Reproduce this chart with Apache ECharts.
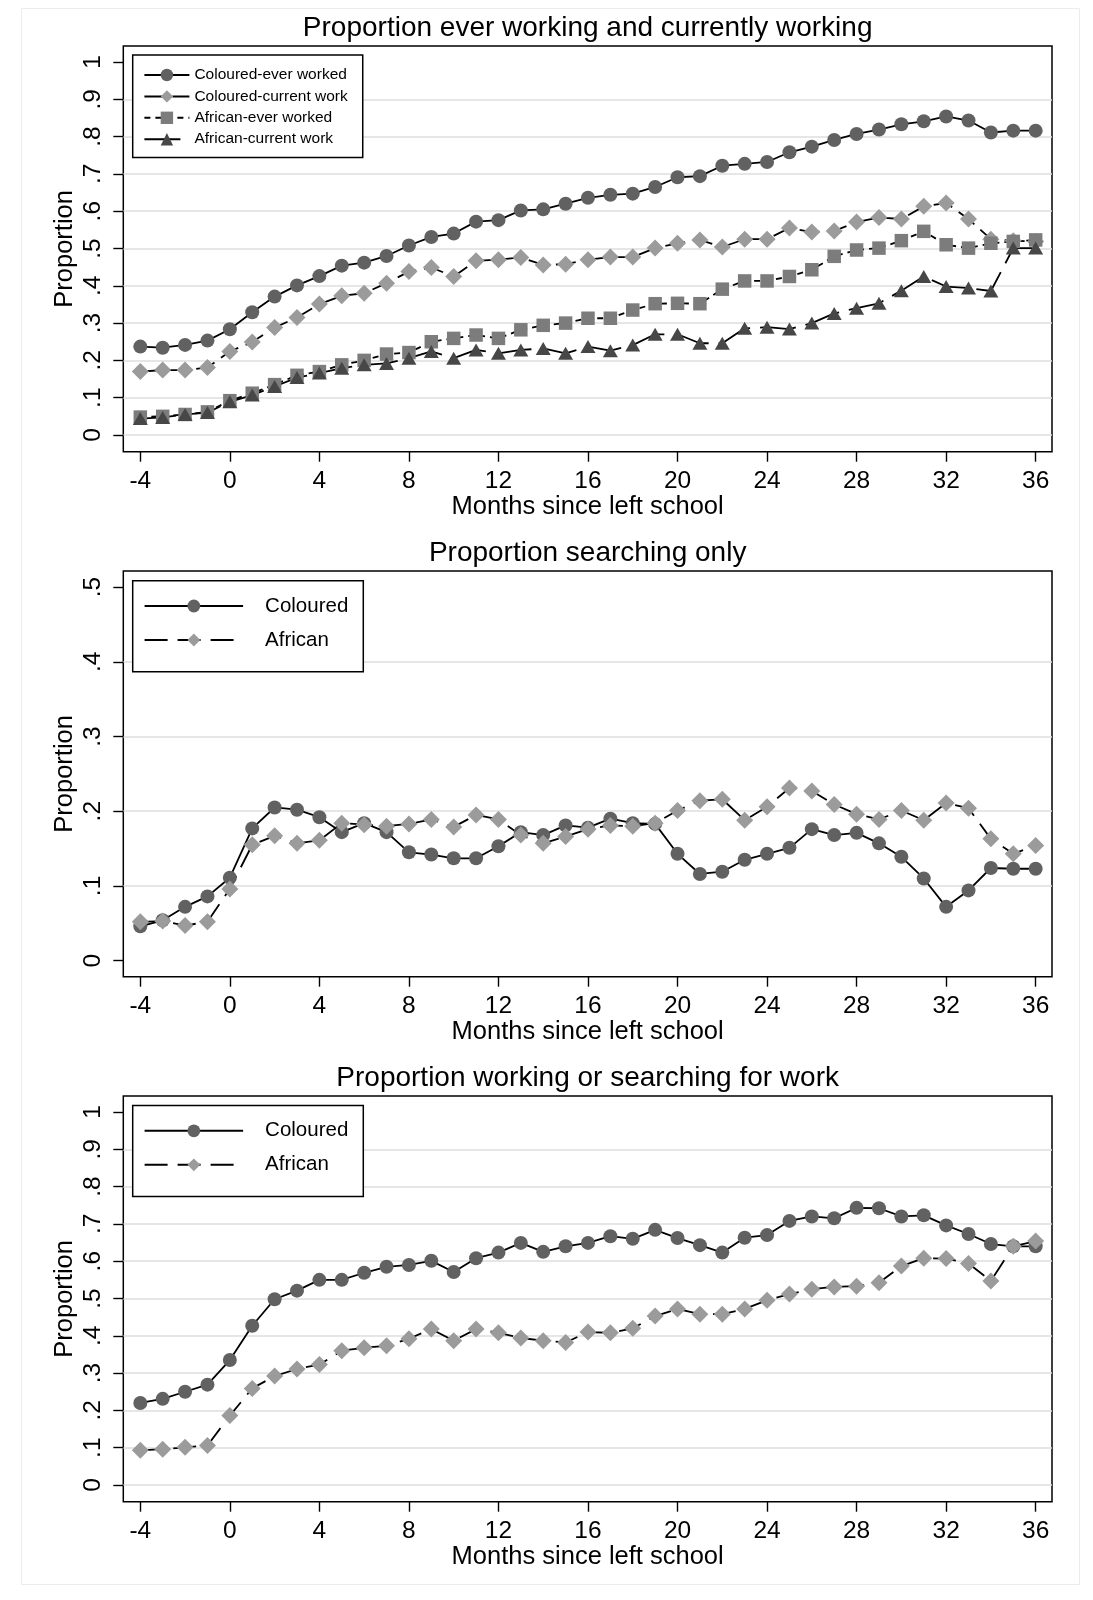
<!DOCTYPE html>
<html>
<head>
<meta charset="utf-8">
<title>School leavers: work and search by months since leaving school</title>
<script src="https://cdn.jsdelivr.net/npm/echarts@6/dist/echarts.min.js"></script>
<style>
  html, body { margin: 0; padding: 0; background: #fff; }
  #chart { width: 1093px; height: 1600px; }
</style>
</head>
<body>
<div id="chart"></div>
<script>
// Months relative to leaving school
const months = [-4, -3, -2, -1, 0, 1, 2, 3, 4, 5, 6, 7, 8, 9, 10, 11, 12, 13, 14, 15, 16,
  17, 18, 19, 20, 21, 22, 23, 24, 25, 26, 27, 28, 29, 30, 31, 32, 33, 34, 35, 36];

// Tick positions
const xTicks = [-4, 0, 4, 8, 12, 16, 20, 24, 28, 32, 36];
const yTicksFull = [0, 0.1, 0.2, 0.3, 0.4, 0.5, 0.6, 0.7, 0.8, 0.9, 1];
const yTicksHalf = [0, 0.1, 0.2, 0.3, 0.4, 0.5];
const gridLinesFull = [0, 0.1, 0.2, 0.3, 0.4, 0.5, 0.6, 0.7, 0.8, 0.9];
const gridLinesHalf = [0.1, 0.2, 0.3, 0.4];

// Panel 1: ever working and currently working
const colouredEverWorked = [0.237, 0.234, 0.2415, 0.253, 0.2835, 0.329, 0.371, 0.401, 0.426, 0.454,
  0.462, 0.480, 0.508, 0.531, 0.540, 0.572, 0.576, 0.602, 0.605, 0.620, 0.636, 0.644, 0.647, 0.665,
  0.691, 0.694, 0.722, 0.727, 0.732, 0.758, 0.773, 0.791, 0.807, 0.819, 0.833, 0.841, 0.854, 0.843,
  0.811, 0.816, 0.816];
const colouredCurrentWork = [0.170, 0.174, 0.174, 0.181, 0.224, 0.249, 0.288, 0.315, 0.351, 0.373,
  0.380, 0.407, 0.438, 0.449, 0.425, 0.467, 0.470, 0.476, 0.456, 0.458, 0.470, 0.477, 0.477, 0.501,
  0.514, 0.523, 0.504, 0.525, 0.525, 0.555, 0.544, 0.547, 0.571, 0.583, 0.579, 0.613, 0.622, 0.579,
  0.525, 0.521, 0.519];
const africanEverWorked = [0.048, 0.050, 0.055, 0.062, 0.092, 0.112, 0.135, 0.160, 0.170, 0.188,
  0.200, 0.217, 0.221, 0.250, 0.259, 0.268, 0.259, 0.282, 0.294, 0.300, 0.313, 0.313, 0.335, 0.352,
  0.353, 0.352, 0.391, 0.413, 0.413, 0.425, 0.443, 0.479, 0.496, 0.501, 0.521, 0.546, 0.510, 0.501,
  0.514, 0.519, 0.523];
const africanCurrentWork = [0.044, 0.047, 0.055, 0.060, 0.089, 0.107, 0.130, 0.154, 0.166, 0.179,
  0.188, 0.192, 0.206, 0.224, 0.206, 0.228, 0.219, 0.228, 0.232, 0.219, 0.237, 0.226, 0.241, 0.270,
  0.270, 0.246, 0.246, 0.286, 0.289, 0.284, 0.300, 0.326, 0.340, 0.353, 0.387, 0.425, 0.398, 0.394,
  0.386, 0.501, 0.501];

// Panel 2: searching only
const colouredSearching = [0.046, 0.054, 0.072, 0.086, 0.111, 0.177, 0.205, 0.202, 0.192, 0.172,
  0.184, 0.172, 0.145, 0.142, 0.137, 0.137, 0.153, 0.172, 0.168, 0.181, 0.178, 0.190, 0.184, 0.183,
  0.143, 0.116, 0.119, 0.135, 0.143, 0.151, 0.176, 0.168, 0.171, 0.157, 0.139, 0.110, 0.072, 0.094,
  0.124, 0.123, 0.123];
const africanSearching = [0.052, 0.053, 0.047, 0.052, 0.096, 0.155, 0.167, 0.157, 0.161, 0.184,
  0.182, 0.180, 0.183, 0.189, 0.179, 0.195, 0.189, 0.168, 0.157, 0.166, 0.176, 0.181, 0.180, 0.184,
  0.201, 0.214, 0.216, 0.188, 0.206, 0.231, 0.227, 0.209, 0.196, 0.189, 0.201, 0.188, 0.211, 0.204,
  0.163, 0.143, 0.154];

// Panel 3: working or searching for work
const colouredActive = [0.220, 0.231, 0.250, 0.269, 0.335, 0.427, 0.498, 0.521, 0.550, 0.550,
  0.569, 0.585, 0.590, 0.601, 0.571, 0.608, 0.623, 0.649, 0.625, 0.640, 0.649, 0.667, 0.660, 0.684,
  0.662, 0.643, 0.623, 0.663, 0.670, 0.708, 0.720, 0.715, 0.743, 0.742, 0.720, 0.723, 0.696, 0.673,
  0.646, 0.640, 0.640];
const africanActive = [0.093, 0.096, 0.101, 0.106, 0.186, 0.259, 0.292, 0.311, 0.323, 0.360,
  0.368, 0.373, 0.392, 0.418, 0.387, 0.418, 0.408, 0.394, 0.387, 0.382, 0.410, 0.408, 0.420, 0.453,
  0.472, 0.458, 0.458, 0.472, 0.495, 0.512, 0.525, 0.531, 0.533, 0.542, 0.587, 0.608, 0.607, 0.594,
  0.547, 0.640, 0.654];

// ---------- styling ----------
const FONT = "'Liberation Sans', Arial, Helvetica, sans-serif";
const INK = '#000';
const PLOT_LEFT = 123.3;
const PLOT_WIDTH = 928.7;
const PLOT_CENTER = PLOT_LEFT + PLOT_WIDTH / 2;
const panelTops = [46, 571, 1096];
const PANEL_H = 405.7;

const markers = {
  circle:   { symbol: 'circle',   size: 14,       color: '#616161' },
  diamond:  { symbol: 'diamond',  size: 17,       color: '#9b9b9b' },
  square:   { symbol: 'rect',     size: 13.5,     color: '#7c7c7c' },
  triangle: { symbol: 'triangle', size: [15, 13], color: '#474747' }
};

function pairs(values) {
  return months.map((m, i) => [m, values[i]]);
}

function lineSeries(name, values, panel, marker, dash) {
  const mk = markers[marker];
  return {
    name: name,
    type: 'line',
    xAxisIndex: panel,
    yAxisIndex: panel * 2,
    data: pairs(values),
    symbol: mk.symbol,
    symbolSize: mk.size,
    showSymbol: true,
    showAllSymbol: true,
    itemStyle: { color: mk.color, borderWidth: 0 },
    lineStyle: { color: INK, width: 1.8, type: dash || 'solid' },
    emphasis: { disabled: true },
    animation: false
  };
}

function yLabel(v) {
  const r = Math.round(v * 10) / 10;
  if (r === 0) return '0';
  if (r === 1) return '1';
  return String(r).replace(/^0\./, '.');
}

function xAxis(panel) {
  return {
    gridIndex: panel,
    type: 'value',
    min: -4.76,
    max: 36.73,
    position: 'bottom',
    axisLine: { show: false, onZero: false },
    axisTick: { show: true, inside: false, length: 10, customValues: xTicks,
                lineStyle: { color: INK, width: 1.4 } },
    axisLabel: { customValues: xTicks, margin: 17, fontSize: 24.5, color: INK, fontFamily: FONT },
    splitLine: { show: false },
    name: 'Months since left school',
    nameLocation: 'middle',
    nameMoveOverlap: false,
    nameGap: 42.5,
    nameTextStyle: { fontSize: 25.5, color: INK, fontFamily: FONT }
  };
}

function yAxes(panel, min, max, ticks, lines) {
  return [
    {
      gridIndex: panel,
      type: 'value',
      min: min,
      max: max,
      position: 'left',
      axisLine: { show: false, onZero: false },
      axisTick: { show: true, inside: false, length: 10, customValues: ticks,
                  lineStyle: { color: INK, width: 1.4 } },
      axisLabel: { customValues: ticks, rotate: 90, margin: 18, fontSize: 24.5, color: INK,
                   fontFamily: FONT, formatter: yLabel },
      splitLine: { show: false },
      name: 'Proportion',
      nameLocation: 'middle',
      nameMoveOverlap: false,
      nameGap: 45.5,
      nameTextStyle: { fontSize: 25.5, color: INK, fontFamily: FONT }
    },
    {
      // horizontal reference lines
      gridIndex: panel,
      type: 'value',
      min: min,
      max: max,
      position: 'left',
      axisLine: { show: false, onZero: false },
      axisTick: { show: false, customValues: lines },
      axisLabel: { show: false, customValues: lines },
      splitLine: { show: true, lineStyle: { color: '#dedede', width: 1.6 } }
    }
  ];
}

function legend(top, names, big) {
  const common = {
    left: 132.7,
    top: top,
    orient: 'vertical',
    align: 'left',
    selectedMode: false,
    backgroundColor: '#fff',
    borderColor: INK,
    borderWidth: 1.5,
    borderRadius: 0,
    data: names
  };
  if (big) {
    return Object.assign(common, {
      padding: [14.3, 15, 20.7, 10.9],
      itemWidth: 98.5,
      itemHeight: 16,
      itemGap: 12,
      textStyle: { fontSize: 20.5, lineHeight: 22, color: INK, fontFamily: FONT, padding: [0, 0, 0, 17] }
    });
  }
  return Object.assign(common, {
    padding: [12, 15, 10.3, 10.7],
    itemWidth: 45,
    itemHeight: 15.5,
    itemGap: 5.4,
    textStyle: { fontSize: 15.5, lineHeight: 15.5, color: INK, fontFamily: FONT }
  });
}

function title(text, panel) {
  return {
    text: text,
    left: PLOT_CENTER,
    top: panelTops[panel] - 32,
    textAlign: 'center',
    padding: 0,
    textStyle: { fontSize: 28, fontWeight: 'normal', color: INK, fontFamily: FONT }
  };
}

const panelTitles = [
  'Proportion ever working and currently working',
  'Proportion searching only',
  'Proportion working or searching for work'
];

const option = {
  backgroundColor: '#fff',
  animation: false,
  textStyle: { fontFamily: FONT },
  graphic: [{
    type: 'rect',
    silent: true,
    z: -10,
    shape: { x: 21.5, y: 8.5, width: 1058, height: 1576 },
    style: { fill: 'none', stroke: '#ececec', lineWidth: 1 }
  }],
  title: panelTitles.map((t, i) => title(t, i)),
  legend: [
    legend(55, ['Coloured-ever worked', 'Coloured-current work', 'African-ever worked', 'African-current work'], false),
    legend(580.7, ['Coloured', 'African'], true),
    legend(1105.5, ['Coloured', 'African'], true)
  ],
  grid: panelTops.map(t => ({
    left: PLOT_LEFT,
    top: t,
    width: PLOT_WIDTH,
    height: PANEL_H,
    show: true,
    backgroundColor: '#fff',
    borderColor: INK,
    borderWidth: 1.5,
    containLabel: false
  })),
  xAxis: [xAxis(0), xAxis(1), xAxis(2)],
  yAxis: [].concat(
    yAxes(0, -0.0448, 1.0429, yTicksFull, gridLinesFull),
    yAxes(1, -0.0215, 0.5215, yTicksHalf, gridLinesHalf),
    yAxes(2, -0.0448, 1.0429, yTicksFull, gridLinesFull)
  ),
  series: [
    lineSeries('Coloured-ever worked', colouredEverWorked, 0, 'circle'),
    lineSeries('Coloured-current work', colouredCurrentWork, 0, 'diamond', [20, 8]),
    lineSeries('African-ever worked', africanEverWorked, 0, 'square', [6, 5]),
    lineSeries('African-current work', africanCurrentWork, 0, 'triangle', [36, 10]),
    lineSeries('Coloured', colouredSearching, 1, 'circle'),
    lineSeries('African', africanSearching, 1, 'diamond', [23, 10]),
    lineSeries('Coloured', colouredActive, 2, 'circle'),
    lineSeries('African', africanActive, 2, 'diamond', [23, 10])
  ]
};

const chart = echarts.init(document.getElementById('chart'), null, { renderer: 'canvas' });
chart.setOption(option);
</script>
</body>
</html>
